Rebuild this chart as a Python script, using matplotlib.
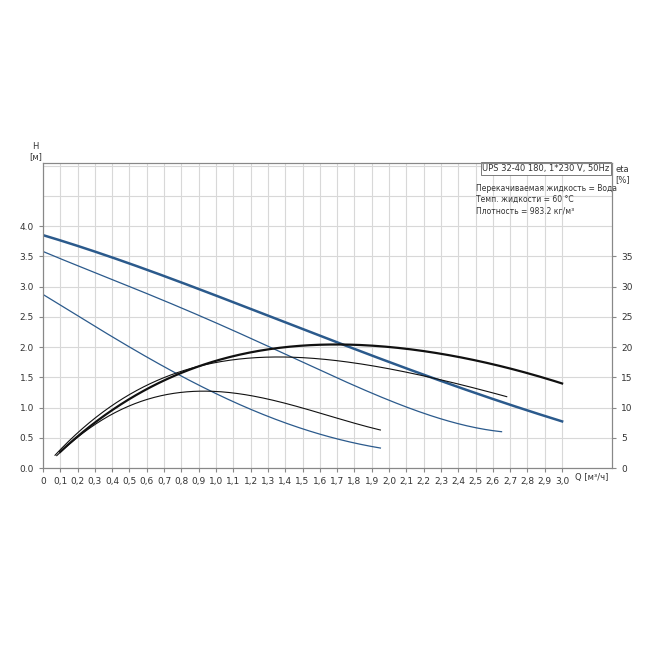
import matplotlib
matplotlib.use("Agg")
import matplotlib.pyplot as plt
import numpy as np

q_hi = [0, 0.5, 1.0, 1.5, 2.0, 2.5, 3.0]
h_hi = [3.85, 3.38, 2.85, 2.3, 1.75, 1.24, 0.77]
q_md = [0, 0.5, 1.0, 1.5, 2.0, 2.65]
h_md = [3.58, 3.0, 2.4, 1.75, 1.12, 0.6]
q_lo = [0, 0.4, 0.8, 1.2, 1.6, 1.95]
h_lo = [2.87, 2.17, 1.52, 0.97, 0.56, 0.33]

qe_hi = [0.1, 0.3, 0.6, 1.0, 1.3, 1.65, 2.0, 2.5, 3.0]
e_hi = [2.5, 7.8, 13.0, 17.5, 19.6, 20.6, 20.0, 17.7, 14.0]
qe_md = [0.07, 0.3, 0.6, 0.9, 1.3, 1.7, 2.2, 2.68]
e_md = [2.0, 8.5, 13.5, 16.7, 18.5, 17.7, 15.2, 11.8]
qe_lo = [0.08, 0.3, 0.6, 0.95, 1.3, 1.6, 1.95]
e_lo = [2.0, 7.3, 11.2, 12.7, 11.5, 9.0, 6.3]

xticks = np.round(np.arange(0, 3.01, 0.1), 1)
xlabels = ["0"] + [f"{v:.1f}".replace(".", ",") for v in xticks[1:]]

fig = plt.figure(figsize=(6.5, 6.5), dpi=100)
ax = fig.add_axes([0.066, 0.28, 0.876, 0.47])
ax.set_xlim(0, 3.29)
ax.set_ylim(0, 5.05)
ax.set_xticks(xticks)
ax.set_xticklabels(xlabels, fontsize=6.5, color="#333")
yt = np.arange(0, 4.01, 0.5)
ax.set_yticks(yt)
ax.set_yticklabels([f"{v:.1f}" for v in yt], fontsize=6.5, color="#333")
ax.set_yticks(np.arange(0, 5.05, 0.5), minor=True)
ax.tick_params(which="minor", length=0)
ax.grid(True, which="both", color="#d8d8d8", lw=0.8)
ax.set_axisbelow(True)
for s in ax.spines.values():
    s.set_color("#888")
ax.tick_params(length=3, color="#888")

def smooth(x, y):
    xs = np.linspace(x[0], x[-1], 200)
    c = np.polyfit(x, y, min(4, len(x) - 1))
    return xs, np.polyval(c, xs)

blue = "#2b5a8c"
for x, y, lw in [(q_hi, h_hi, 1.8), (q_md, h_md, 0.9), (q_lo, h_lo, 0.9)]:
    ax.plot(*smooth(x, y), color=blue, lw=lw)

ax2 = ax.twinx()
ax2.set_ylim(0, 50.5)
ax2.set_yticks(np.arange(0, 36, 5))
ax2.set_yticklabels([str(v) for v in range(0, 36, 5)], fontsize=6.5, color="#333")
ax2.tick_params(length=3, color="#888")
for s in ax2.spines.values():
    s.set_color("#888")
for x, y, lw in [(qe_hi, e_hi, 1.6), (qe_md, e_md, 0.8), (qe_lo, e_lo, 0.8)]:
    ax2.plot(*smooth(x, y), color="#111", lw=lw)

fig.text(0.055, 0.752, "H\n[м]", fontsize=6, ha="center", va="bottom", color="#333")
fig.text(0.958, 0.716, "eta\n[%]", fontsize=6, ha="center", va="bottom", color="#333")
fig.text(0.91, 0.262, "Q [м³/ч]", fontsize=6, ha="center", color="#333")
ax.text(0.995, 0.995, "UPS 32-40 180, 1*230 V, 50Hz", transform=ax.transAxes, fontsize=6,
        ha="right", va="top", color="#333",
        bbox=dict(boxstyle="square,pad=0.2", fc="white", ec="#666", lw=0.6))
ax.text(0.76, 0.93, "Перекачиваемая жидкость = Вода\nТемп. жидкости = 60 °C\nПлотность = 983.2 кг/м³",
        transform=ax.transAxes, fontsize=5.5, ha="left", va="top", color="#333", linespacing=1.3)
fig.savefig("out.png", dpi=100, facecolor="white")
